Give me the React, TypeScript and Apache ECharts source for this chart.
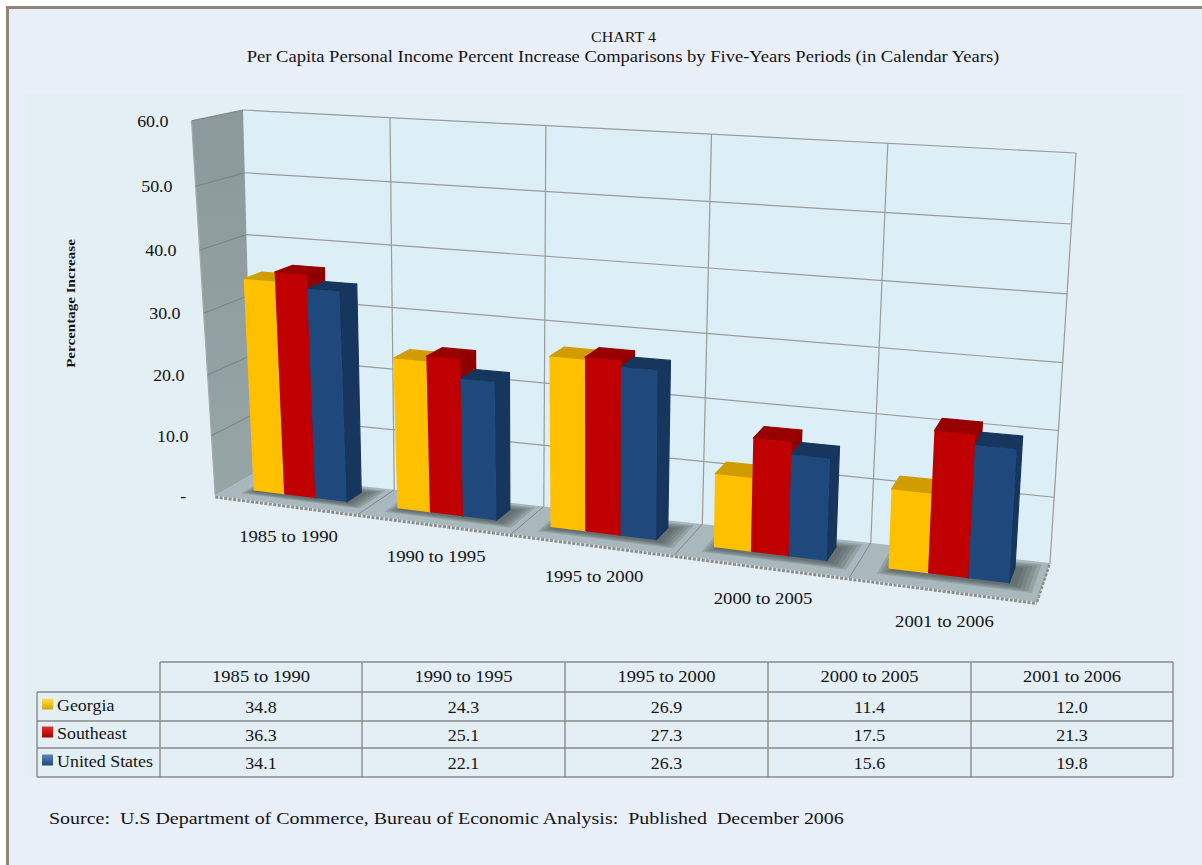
import React, { useEffect, useRef } from "react";
import * as echarts from "echarts";

const chartTitle = "CHART 4";
const chartSubtitle = "Per Capita Personal Income Percent Increase Comparisons by Five-Years Periods (in Calendar Years)";
const yAxisTitle = "Percentage Increase";
const sourceNote = "Source:  U.S Department of Commerce, Bureau of Economic Analysis:  Published  December 2006";
const categories = ["1985 to 1990", "1990 to 1995", "1995 to 2000", "2000 to 2005", "2001 to 2006"];
const georgia = [34.8, 24.3, 26.9, 11.4, 12.0];
const southeast = [36.3, 25.1, 27.3, 17.5, 21.3];
const unitedStates = [34.1, 22.1, 26.3, 15.6, 19.8];
const yTicks = [0, 10, 20, 30, 40, 50, 60];
const yTickLabels = ["-", "10.0", "20.0", "30.0", "40.0", "50.0", "60.0"];
const seriesNames = ["Georgia", "Southeast", "United States"];

const FONT = '"Liberation Serif", serif';
const TEXT = "#141414";
const G = { left: 243, top: 110, width: 833, height: 453 };
// back wall corners on screen, depth vanishing point
const Q = [[253, 474], [1050, 563], [1076, 153], [243, 110]];
const VP = [1273, -108];
const sx = Q[0][0] - Q[1][0] + Q[2][0] - Q[3][0];
const sy = Q[0][1] - Q[1][1] + Q[2][1] - Q[3][1];
const dx1 = Q[1][0] - Q[2][0], dx2 = Q[3][0] - Q[2][0], dy1 = Q[1][1] - Q[2][1], dy2 = Q[3][1] - Q[2][1];
const den = dx1 * dy2 - dx2 * dy1;
const hg = (sx * dy2 - dx2 * sy) / den;
const hh = (dx1 * sy - sx * dy1) / den;
const ha = Q[1][0] - Q[0][0] + hg * Q[1][0], hb = Q[3][0] - Q[0][0] + hh * Q[3][0], hc = Q[0][0];
const hd = Q[1][1] - Q[0][1] + hg * Q[1][1], he = Q[3][1] - Q[0][1] + hh * Q[3][1], hf = Q[0][1];
const PERSP = 0.975;

function project(px: number, py: number, w: number): number[] {
  const u0 = (px - G.left) / G.width;
  const v = 1 - (py - G.top) / G.height;
  const u = (u0 * PERSP) / (1 - u0 + u0 * PERSP);
  const d = hg * u + hh * v + 1;
  const bx = (ha * u + hb * v + hc) / d;
  const by = (hd * u + he * v + hf) / d;
  const k = (0.037 + 0.013 * v + 0.021 * u) * w;
  return [bx + k * (bx - VP[0]), by + k * (by - VP[1])];
}

const gridRight = G.left + G.width;
const gridBottom = G.top + G.height;
const DEPTH_FRONT = 0.62;
const DEPTH_BACK = 0.22;

const poly = (points: number[][], fill: any, extra: any = {}) => ({
  type: "polygon",
  shape: { points },
  style: { fill, ...extra },
});
const seg = (a: number[], b: number[], stroke: string, lineWidth = 1.1, extra: any = {}) => ({
  type: "line",
  shape: { x1: a[0], y1: a[1], x2: b[0], y2: b[1] },
  style: { stroke, lineWidth, ...extra },
});
const txt = (x: number, y: number, text: string, o: any = {}) => ({
  type: "text",
  x,
  y,
  rotation: o.rotation || 0,
  scaleX: o.scaleX ?? 1.12,
  style: {
    text,
    font: `${o.weight || "normal"} ${o.size || 16}px ${FONT}`,
    fill: TEXT,
    align: o.align || "center",
    verticalAlign: "middle",
  },
});

const renderFrame = () => {
  const sideGrad = new echarts.graphic.LinearGradient(0, 0, 0, 1, [
    { offset: 0, color: "#8b999b" },
    { offset: 1, color: "#97a5a7" },
  ]);
  return {
    type: "group",
    children: [
      poly([project(G.left, gridBottom, 0), project(gridRight, gridBottom, 0), project(gridRight, G.top, 0), project(G.left, G.top, 0)], "#dceff7"),
      poly([project(G.left, gridBottom, 0), project(G.left, G.top, 0), project(G.left, G.top, 1), project(G.left, gridBottom, 1)], sideGrad),
      poly([project(G.left, gridBottom, 0), project(gridRight, gridBottom, 0), project(gridRight, gridBottom, 1), project(G.left, gridBottom, 1)], "#a9b8bc"),
      seg(project(G.left, gridBottom, 1).map((c, i) => c + (i ? 1.5 : 0)), project(gridRight, gridBottom, 1).map((c, i) => c + (i ? 1.5 : 0)), "#8d8d8a", 3, { lineDash: [3, 1.5] }),
      seg(project(gridRight, gridBottom, 1), project(gridRight, gridBottom, 0), "#8d8d8a", 2.5, { lineDash: [3, 1.5] }),
      seg(project(G.left, G.top, 1), project(G.left, gridBottom, 1), "#a3aaac", 1.2),
      seg(project(gridRight, G.top, 0), project(gridRight, gridBottom, 0), "#9a9a9a", 1.2),
    ],
  };
};

const renderTick = (_: any, api: any) => {
  const tick = api.value(1);
  const y = api.coord([0, tick])[1];
  const front = project(G.left, y, 1);
  const children: any[] = [];
  if (tick > 0) {
    children.push(seg(project(G.left, y, 0), project(gridRight, y, 0), "#9c9a9a", 1.2));
    children.push(seg(project(G.left, y, 0), front, "#7c8687", 1.1));
  }
  const dx = tick === 0 ? -29 : -23;
  children.push(txt(front[0] + dx, front[1] + 1, yTickLabels[yTicks.indexOf(tick)], { align: "right" }));
  return { type: "group", children };
};

const SHADOW_LAYERS = [0.09, 0.07, 0.05, 0.03, 0.01];
const renderCategory = (_: any, api: any) => {
  const idx = api.value(0);
  const cx = api.coord([idx, 0])[0];
  const band = api.size([1, 0])[0];
  const children: any[] = [];
  if (idx > 0) {
    const x = cx - band / 2;
    children.push(seg(project(x, G.top, 0), project(x, gridBottom, 0), "#9c9a9a", 1.2));
    children.push(seg(project(x, gridBottom, 0), project(x, gridBottom, 1), "#7e8a8c", 1));
  }
  SHADOW_LAYERS.forEach((grow) => {
    const g = grow * 5;
    const l = cx - band * (0.3 + grow * 0.8), r = cx + band * (0.36 + grow * 1.1);
    const fr = DEPTH_FRONT + 0.04 + g * 0.3, ba = DEPTH_BACK - g * 0.35;
    children.push(
      poly(
        [project(l, gridBottom, fr), project(r, gridBottom, fr), project(r, gridBottom, ba), project(l, gridBottom, ba)],
        "rgba(70,78,82,0.2)"
      )
    );
  });
  return { type: "group", children };
};

const renderCategoryLabel = (_: any, api: any) => {
  const idx = api.value(0);
  const cx = api.coord([idx, 0])[0];
  const p = project(cx, gridBottom, 1);
  return txt(p[0] + 3, p[1] + 32, categories[idx], { scaleX: 1.17 });
};

const BAR_W = 0.218;
const makeBarRenderer = (slot: number, front: string, top: string, side: string) => (_: any, api: any) => {
  const idx = api.value(0);
  const cx = api.coord([idx, 0])[0];
  const band = api.size([1, 0])[0];
  const x0 = cx + band * (-0.327 + slot * BAR_W);
  const x1 = x0 + band * BAR_W;
  const yTop = api.coord([idx, api.value(1)])[1];
  const f = DEPTH_FRONT, b = DEPTH_BACK;
  const round = (c: string) => ({ stroke: c, lineWidth: 1.2, lineJoin: "round" });
  return {
    type: "group",
    children: [
      poly([project(x1, gridBottom, f), project(x1, gridBottom, b), project(x1, yTop, b), project(x1, yTop, f)], side, round(side)),
      poly([project(x0, yTop, f), project(x1, yTop, f), project(x1, yTop, b), project(x0, yTop, b)], top, round(top)),
      poly([project(x0, gridBottom, f), project(x1, gridBottom, f), project(x1, yTop, f), project(x0, yTop, f)], front),
    ],
  };
};

const indexed = (vals: number[]) => vals.map((v, i) => [i, v]);

const tableX = [160, 362, 565, 768, 971, 1173];
const tableY = [662, 692, 721, 748, 777];
const keyColors = [
  ["#ffe14d", "#d9a300"],
  ["#e63030", "#a00000"],
  ["#5c85b8", "#1f497d"],
];

function tableGraphics(): any[] {
  const out: any[] = [];
  const line = (x1: number, y1: number, x2: number, y2: number) => ({
    type: "line",
    shape: { x1, y1, x2, y2 },
    style: { stroke: "#8a8a8a", lineWidth: 1.4 },
  });
  tableX.forEach((x) => out.push(line(x, tableY[0], x, tableY[4])));
  out.push(line(37, tableY[1], 37, tableY[4]));
  out.push(line(tableX[0], tableY[0], tableX[5], tableY[0]));
  tableY.slice(1).forEach((y) => out.push(line(37, y, tableX[5], y)));
  const rows = [georgia, southeast, unitedStates];
  const center = (i: number) => (tableX[i] + tableX[i + 1]) / 2;
  categories.forEach((c, i) => out.push(txt(center(i), 677, c, { scaleX: 1.16 })));
  rows.forEach((vals, r) => {
    const y = (tableY[r + 1] + tableY[r + 2]) / 2;
    out.push({
      type: "rect",
      shape: { x: 42, y: y - 8, width: 11, height: 11 },
      style: {
        fill: new echarts.graphic.LinearGradient(0, 0, 0, 1, [
          { offset: 0, color: keyColors[r][0] },
          { offset: 1, color: keyColors[r][1] },
        ]),
      },
    });
    out.push(txt(57, y - 0.5, seriesNames[r], { align: "left" }));
    vals.forEach((v, i) => out.push(txt(center(i), y + 1, v.toFixed(1))));
  });
  return out;
}

export default function App() {
  const ref = useRef<HTMLDivElement>(null);
  useEffect(() => {
    document.body.style.margin = "0";
    const chart = echarts.init(ref.current!, undefined, { renderer: "svg" });
    const barSeries = [
      [georgia, "#ffc000", "#d09c00", "#c79500"],
      [southeast, "#c00000", "#980000", "#8e0000"],
      [unitedStates, "#1f497d", "#17365d", "#17365d"],
    ] as any[];
    chart.setOption({
      animation: false,
      backgroundColor: "#ffffff",
      grid: { left: G.left, top: G.top, width: G.width, height: G.height },
      xAxis: { type: "category", data: categories, show: false },
      yAxis: { type: "value", min: 0, max: 60, interval: 10, show: false },
      graphic: [
        {
          type: "group",
          z: 0,
          children: [
            { type: "rect", shape: { x: 7.5, y: 7.5, width: 1200, height: 864 }, style: { fill: "#e9eff8", stroke: "#90867a", lineWidth: 3 } },
            { type: "rect", shape: { x: 25, y: 94, width: 1159, height: 683 }, style: { fill: "#e3eef5" } },
            txt(623.5, 37, chartTitle, { size: 15, scaleX: 1.07 }),
            txt(623, 57, chartSubtitle, { scaleX: 1.16 }),
            txt(70, 303.5, yAxisTitle, { size: 13, weight: "bold", rotation: Math.PI / 2, scaleX: 1.16 }),
            txt(49, 818, sourceNote, { align: "left", size: 17, scaleX: 1.175 }),
            ...tableGraphics(),
          ],
        },
      ],
      series: [
        { type: "custom", silent: true, data: [[0, 0]], renderItem: renderFrame },
        { type: "custom", silent: true, data: yTicks.map((t) => [0, t]), renderItem: renderTick },
        { type: "custom", silent: true, data: categories.map((_, i) => [i, 0]), renderItem: renderCategory },
        ...barSeries.map((b, i) => ({
          type: "custom",
          name: seriesNames[i],
          silent: true,
          data: indexed(b[0]),
          renderItem: makeBarRenderer(i, b[1], b[2], b[3]),
        })),
        { type: "custom", silent: true, data: categories.map((_, i) => [i, 0]), renderItem: renderCategoryLabel },
      ],
    });
    return () => chart.dispose();
  }, []);
  return <div ref={ref} style={{ position: "absolute", left: 0, top: 0, width: 1202, height: 865 }} />;
}
